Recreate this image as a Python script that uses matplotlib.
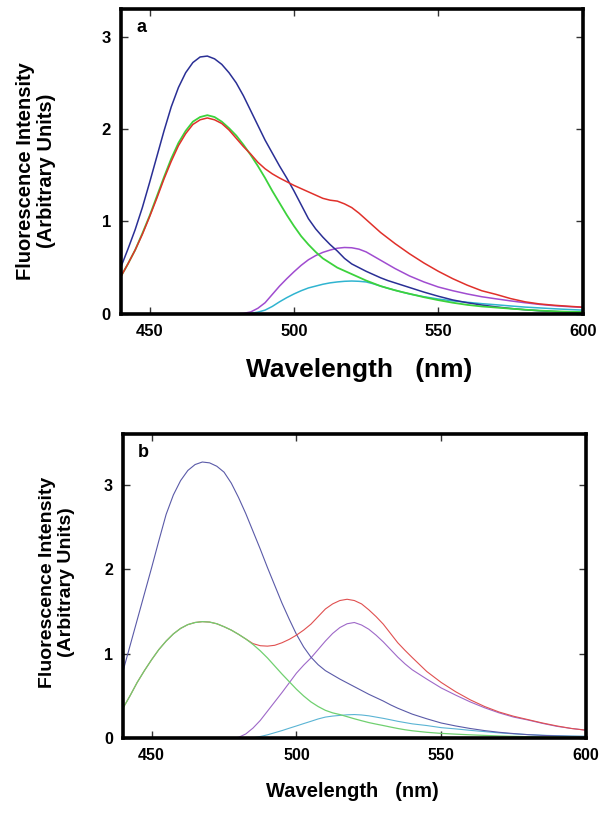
import numpy as np
import matplotlib
matplotlib.use('Agg')
from matplotlib import pyplot as plt

plt.rcParams['font.family'] = ['Liberation Sans', 'DejaVu Sans']

# wavelength grid (nm): 2.5 nm steps up to 540, then 5 nm steps
wl = [440, 442.5, 445, 447.5, 450, 452.5, 455, 457.5, 460, 462.5, 465, 467.5, 470,
      472.5, 475, 477.5, 480, 482.5, 485, 487.5, 490, 492.5, 495, 497.5, 500,
      502.5, 505, 507.5, 510, 512.5, 515, 517.5, 520, 522.5, 525, 527.5, 530,
      532.5, 535, 537.5, 540,
      545, 550, 555, 560, 565, 570, 575, 580, 585, 590, 595, 600]

# panel a
a_blue = [0.50, 0.70, 0.91, 1.15, 1.42, 1.70, 1.98, 2.24, 2.45, 2.61, 2.72, 2.78, 2.79,
          2.76, 2.70, 2.61, 2.50, 2.36, 2.20, 2.04, 1.88, 1.74, 1.60, 1.47, 1.33,
          1.18, 1.03, 0.92, 0.83, 0.75, 0.68, 0.60, 0.54, 0.50, 0.46, 0.425, 0.39,
          0.36, 0.335, 0.31, 0.285,
          0.235, 0.19, 0.15, 0.12, 0.095, 0.075, 0.058, 0.044, 0.033, 0.025, 0.019, 0.015]
a_green = [0.40, 0.54, 0.69, 0.87, 1.06, 1.27, 1.48, 1.68, 1.85, 1.98, 2.08, 2.13, 2.15,
           2.13, 2.08, 2.01, 1.93, 1.83, 1.72, 1.60, 1.47, 1.33, 1.20, 1.07, 0.95,
           0.84, 0.75, 0.67, 0.60, 0.55, 0.50, 0.465, 0.43, 0.395, 0.36, 0.33, 0.30,
           0.277, 0.255, 0.235, 0.217,
           0.18, 0.148, 0.12, 0.097, 0.08, 0.068, 0.056, 0.045, 0.035, 0.028, 0.022, 0.02]
a_red = [0.40, 0.54, 0.69, 0.86, 1.05, 1.25, 1.46, 1.65, 1.82, 1.95, 2.05, 2.10, 2.12,
         2.10, 2.06, 1.99, 1.90, 1.81, 1.73, 1.64, 1.57, 1.515, 1.47, 1.43, 1.39,
         1.355, 1.32, 1.285, 1.25, 1.23, 1.22, 1.19, 1.15, 1.09, 1.02, 0.95, 0.88,
         0.82, 0.76, 0.705, 0.65,
         0.55, 0.46, 0.38, 0.31, 0.25, 0.21, 0.165, 0.13, 0.107, 0.093, 0.082, 0.072]
a_purple = [0, 0, 0, 0, 0, 0, 0, 0, 0, 0, 0, 0, 0,
            0, 0, 0, 0, 0.005, 0.02, 0.06, 0.12, 0.21, 0.30, 0.38, 0.455,
            0.525, 0.585, 0.63, 0.665, 0.69, 0.71, 0.718, 0.715, 0.70, 0.67, 0.625, 0.58,
            0.535, 0.49, 0.45, 0.41,
            0.345, 0.29, 0.25, 0.215, 0.185, 0.162, 0.14, 0.12, 0.102, 0.088, 0.078, 0.07]
a_cyan = [0, 0, 0, 0, 0, 0, 0, 0, 0, 0, 0, 0, 0,
          0, 0, 0, 0, 0, 0.005, 0.018, 0.04, 0.08, 0.13, 0.175, 0.215,
          0.25, 0.28, 0.30, 0.32, 0.335, 0.345, 0.352, 0.355, 0.352, 0.345, 0.325, 0.30,
          0.277, 0.255, 0.235, 0.215,
          0.185, 0.16, 0.14, 0.125, 0.11, 0.098, 0.085, 0.073, 0.064, 0.055, 0.047, 0.04]

# panel b
b_blue = [0.78, 1.09, 1.40, 1.71, 2.02, 2.34, 2.65, 2.88, 3.05, 3.17, 3.24, 3.27, 3.26,
          3.22, 3.15, 3.02, 2.85, 2.66, 2.45, 2.24, 2.02, 1.81, 1.60, 1.41, 1.23,
          1.08, 0.96, 0.87, 0.80, 0.75, 0.70, 0.655, 0.61, 0.565, 0.52, 0.48, 0.44,
          0.395, 0.355, 0.32, 0.285,
          0.23, 0.18, 0.145, 0.115, 0.09, 0.07, 0.055, 0.042, 0.033, 0.027, 0.022, 0.02]
b_green = [0.35, 0.50, 0.66, 0.80, 0.93, 1.05, 1.15, 1.235, 1.30, 1.345, 1.37, 1.38, 1.375,
           1.355, 1.32, 1.28, 1.23, 1.175, 1.11, 1.035, 0.95, 0.855, 0.76, 0.67, 0.58,
           0.50, 0.43, 0.375, 0.33, 0.30, 0.28, 0.255, 0.23, 0.207, 0.185, 0.167, 0.15,
           0.132, 0.115, 0.10, 0.088,
           0.07, 0.057, 0.048, 0.04, 0.033, 0.027, 0.022, 0.018, 0.015, 0.013, 0.012, 0.01]
b_red = [0.35, 0.50, 0.66, 0.80, 0.93, 1.05, 1.15, 1.235, 1.30, 1.345, 1.37, 1.38, 1.375,
         1.355, 1.32, 1.28, 1.23, 1.175, 1.12, 1.095, 1.09, 1.10, 1.13, 1.17, 1.22,
         1.28, 1.35, 1.44, 1.53, 1.59, 1.63, 1.645, 1.63, 1.59, 1.52, 1.44, 1.35,
         1.24, 1.13, 1.04, 0.955,
         0.79, 0.66, 0.55, 0.455, 0.375, 0.31, 0.26, 0.22, 0.18, 0.145, 0.115, 0.095]
b_purple = [0, 0, 0, 0, 0, 0, 0, 0, 0, 0, 0, 0, 0,
            0, 0, 0, 0.01, 0.05, 0.12, 0.21, 0.32, 0.43, 0.54, 0.655, 0.77,
            0.865, 0.95, 1.05, 1.15, 1.24, 1.31, 1.355, 1.37, 1.34, 1.29, 1.22, 1.14,
            1.05, 0.96, 0.88, 0.81,
            0.70, 0.595, 0.51, 0.43, 0.36, 0.30, 0.25, 0.215, 0.175, 0.14, 0.115, 0.095]
b_cyan = [0, 0, 0, 0, 0, 0, 0, 0, 0, 0, 0, 0, 0,
          0, 0, 0, 0, 0, 0.005, 0.02, 0.04, 0.065, 0.09, 0.118, 0.145,
          0.173, 0.20, 0.228, 0.25, 0.262, 0.27, 0.277, 0.28, 0.275, 0.265, 0.25, 0.235,
          0.218, 0.20, 0.185, 0.17,
          0.15, 0.125, 0.11, 0.093, 0.078, 0.063, 0.052, 0.042, 0.035, 0.03, 0.026, 0.023]

fig = plt.figure(figsize=(6.08, 8.13), dpi=100)

ax1 = fig.add_axes([0.1985, 0.614, 0.760, 0.375])
ax2 = fig.add_axes([0.2018, 0.092, 0.762, 0.374])

ax1.plot(wl, a_cyan, color='#30b4d0', lw=1.1)
ax1.plot(wl, a_purple, color='#a04cd0', lw=1.1)
ax1.plot(wl, a_blue, color='#2a2f95', lw=1.1)
ax1.plot(wl, a_green, color='#3cd23c', lw=1.3)
ax1.plot(wl, a_red, color='#e0302a', lw=1.1)

ax2.plot(wl, b_cyan, color='#5ab4d4', lw=0.8)
ax2.plot(wl, b_purple, color='#9e68c8', lw=0.8)
ax2.plot(wl, b_blue, color='#5a5aa8', lw=0.8)
ax2.plot(wl, b_red, color='#e05050', lw=0.8)
ax2.plot(wl, b_green, color='#70d070', lw=0.9)

for ax, ymax, fs in [(ax1, 3.3, 12), (ax2, 3.6, 11.5)]:
    ax.set_xlim(440, 600)
    ax.set_ylim(0, ymax)
    ax.set_xticks([450, 500, 550, 600])
    ax.set_yticks([0, 1, 2, 3])
    ax.tick_params(direction='in', top=True, right=True, length=5, width=1,
                   color='#333333', labelsize=fs, pad=7)
    for lab in ax.get_xticklabels() + ax.get_yticklabels():
        lab.set_fontweight('bold')
    for sp in ax.spines.values():
        sp.set_linewidth(2.6)

ax1.text(0.035, 0.94, 'a', transform=ax1.transAxes, fontsize=13, fontweight='bold', va='center')
ax2.text(0.033, 0.94, 'b', transform=ax2.transAxes, fontsize=13, fontweight='bold', va='center')

fig.text(0.059, 0.79, 'Fluorescence Intensity\n(Arbitrary Units)', rotation=90,
         ha='center', va='center', multialignment='center', fontsize=14.5,
         fontweight='bold', linespacing=1.15)
fig.text(0.59, 0.545, 'Wavelength   (nm)', ha='center', va='center',
         fontsize=19, fontweight='bold')

fig.text(0.094, 0.284, 'Fluorescence Intensity\n(Arbitrary Units)', rotation=90,
         ha='center', va='center', multialignment='center', fontsize=14,
         fontweight='bold', linespacing=1.15)
fig.text(0.58, 0.027, 'Wavelength   (nm)', ha='center', va='center',
         fontsize=14.5, fontweight='bold')

fig.savefig('out.png', dpi=100)
